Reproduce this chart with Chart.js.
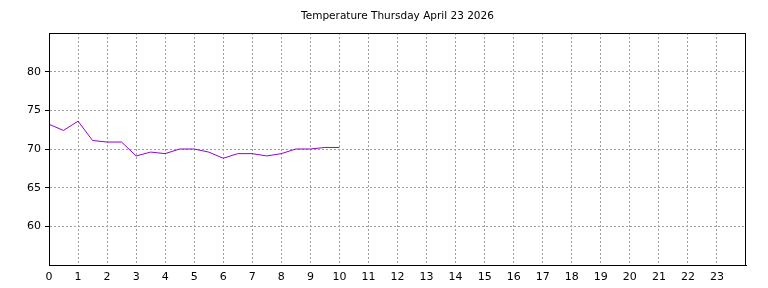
<!DOCTYPE html>
<html>
<head>
<meta charset="utf-8">
<script src="https://cdn.jsdelivr.net/npm/chart.js@4/dist/chart.umd.min.js"></script>
<style>
  html, body { margin: 0; padding: 0; background: #fff; }
  #wrap { width: 768px; height: 288px; position: relative; }
</style>
</head>
<body>
<div id="wrap"><canvas id="tempChart"></canvas></div>
<script>
// Readings every half hour
var chartTitle = "Temperature Thursday April 23 2026";
var hours = [0, 0.5, 1, 1.5, 2, 2.5, 3, 3.5, 4, 4.5, 5, 5.5, 6, 6.5, 7, 7.5, 8, 8.5, 9, 9.5, 10];
var temps = [73.2, 72.4, 73.6, 71.1, 70.9, 70.9, 69.1, 69.6, 69.4, 70.0, 70.0, 69.6, 68.8, 69.4, 69.4, 69.1, 69.4, 70.0, 70.0, 70.2, 70.2];
var xTicks = [0, 1, 2, 3, 4, 5, 6, 7, 8, 9, 10, 11, 12, 13, 14, 15, 16, 17, 18, 19, 20, 21, 22, 23];
var yTicks = [60, 65, 70, 75, 80];

var points = hours.map(function (h, i) {
    return { x: h, y: temps[i] };
});

// box around the plot and the title above it
var frame = {
    id: "frame",
    afterDraw: function (chart) {
        var a = chart.chartArea;
        var ctx = chart.ctx;
        ctx.save();
        ctx.strokeStyle = "#000";
        ctx.lineWidth = 1;
        ctx.strokeRect(a.left + 0.5, a.top + 0.5, a.right - a.left - 1, a.bottom - a.top);
        ctx.fillStyle = "#000";
        ctx.font = "10.5px 'DejaVu Sans'";
        ctx.textAlign = "center";
        ctx.textBaseline = "middle";
        ctx.fillText(chartTitle, (a.left + a.right) / 2, 16);
        ctx.restore();
    }
};

Chart.defaults.font.family = "'DejaVu Sans'";
Chart.defaults.font.size = 11;
Chart.defaults.color = "#000";

new Chart(document.getElementById("tempChart").getContext("2d"), {
    type: "line",
    data: {
        datasets: [{
            data: points,
            borderColor: "#9400d3",
            borderWidth: 1,
            pointRadius: 0,
            tension: 0,
            fill: false
        }]
    },
    options: {
        responsive: true,
        maintainAspectRatio: false,
        animation: false,
        layout: { padding: { top: 33, right: 22, left: 0, bottom: 0 } },
        plugins: {
            legend: { display: false },
            tooltip: { enabled: false },
            title: { display: false }
        },
        scales: {
            x: {
                type: "linear",
                min: 0,
                max: 24,
                afterBuildTicks: function (scale) {
                    scale.ticks = xTicks.map(function (v) { return { value: v }; });
                },
                afterFit: function (scale) { scale.height = 23; },
                ticks: { padding: 2, maxRotation: 0, autoSkip: false },
                grid: { color: "#a0a0a0", tickColor: "rgba(0,0,0,0)", tickLength: 4, lineWidth: 1 },
                border: { display: true, color: "#000", dash: [2, 2] }
            },
            y: {
                min: 55,
                max: 85,
                afterBuildTicks: function (scale) {
                    scale.ticks = yTicks.map(function (v) { return { value: v }; });
                },
                afterFit: function (scale) { scale.width = 49; },
                ticks: { padding: 4 },
                grid: { color: "#a0a0a0", tickColor: "#000", tickLength: 4, lineWidth: 1 },
                border: { display: true, color: "#000", dash: [2, 2] }
            }
        }
    },
    plugins: [frame]
});
</script>
</body>
</html>
